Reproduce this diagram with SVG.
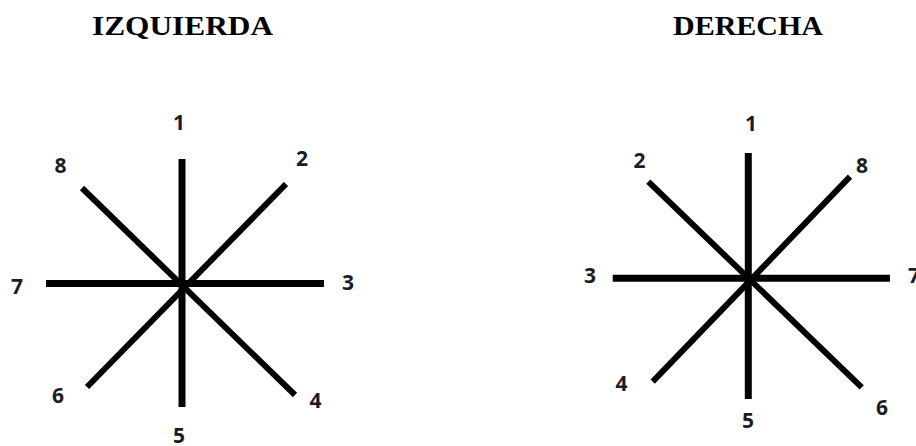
<svg xmlns="http://www.w3.org/2000/svg" width="916" height="446" viewBox="0 0 916 446">
<style>
.title{font-family:"Liberation Serif","Times New Roman",serif;font-weight:bold;font-size:27px;fill:#000;text-anchor:middle}
.num{font-family:"Open Sans","Liberation Sans",sans-serif;font-weight:bold;font-size:21px;fill:#1c1c24;text-anchor:middle}
.ax{stroke:#000;stroke-width:7;stroke-linecap:butt;fill:none}
.dg{stroke:#000;stroke-width:6;stroke-linecap:butt;fill:none}
</style>
<rect width="916" height="446" fill="#fff"/>
<g id="titles">
<text class="title" x="182.5" y="35" textLength="181" lengthAdjust="spacingAndGlyphs">IZQUIERDA</text>
<text class="title" x="748" y="35" textLength="150" lengthAdjust="spacingAndGlyphs">DERECHA</text>
</g>
<g id="left-star">
<g id="left-lines">
<line class="ax" x1="182" y1="159" x2="182" y2="407"/>
<line class="ax" x1="46" y1="283.5" x2="324" y2="283.5"/>
<line class="dg" x1="82" y1="188" x2="295" y2="395"/>
<line class="dg" x1="286" y1="184" x2="87" y2="387"/>
</g>
<g id="left-labels">
<text class="num" x="179" y="130">1</text>
<text class="num" x="302" y="166">2</text>
<text class="num" x="348" y="290">3</text>
<text class="num" x="315.5" y="408">4</text>
<text class="num" x="179" y="443">5</text>
<text class="num" x="58" y="403">6</text>
<text class="num" x="17" y="294">7</text>
<text class="num" x="60.5" y="173">8</text>
</g>
</g>
<g id="right-star">
<g id="right-lines">
<line class="ax" x1="748.3" y1="153" x2="748.3" y2="399"/>
<line class="ax" x1="612.7" y1="278.3" x2="890" y2="278.3"/>
<line class="dg" x1="648.3" y1="181.7" x2="861.7" y2="387.3"/>
<line class="dg" x1="850" y1="176.7" x2="652.7" y2="381.7"/>
</g>
<g id="right-labels">
<text class="num" x="751" y="131">1</text>
<text class="num" x="639.5" y="168">2</text>
<text class="num" x="590" y="283">3</text>
<text class="num" x="621.5" y="391">4</text>
<text class="num" x="748" y="428">5</text>
<text class="num" x="882" y="415">6</text>
<text class="num" x="914" y="283">7</text>
<text class="num" x="862" y="173">8</text>
</g>
</g>
</svg>
